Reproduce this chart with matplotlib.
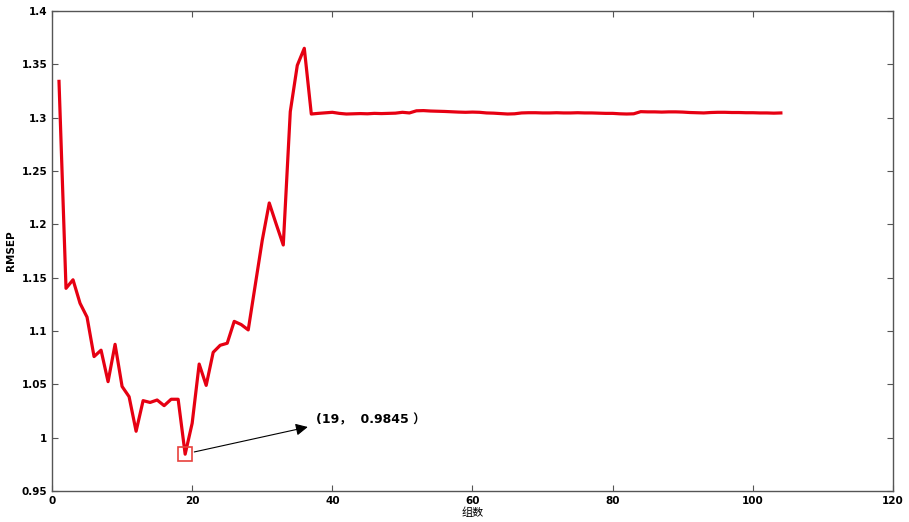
import matplotlib.pyplot as plt
import numpy as np
from matplotlib.ticker import FuncFormatter

plt.rcParams["font.family"] = ["DejaVu Sans", "Noto Sans CJK SC"]

# RMSEP per number of groups
groups = np.arange(1, 105)
rmsep_head = [
    1.334, 1.140, 1.148, 1.126, 1.113, 1.076, 1.082, 1.0525, 1.0875, 1.048,
    1.0384, 1.006, 1.0347, 1.033, 1.0353, 1.030, 1.036, 1.036, 0.9845, 1.0135,
    1.069, 1.049, 1.080, 1.0866, 1.0885, 1.109, 1.106, 1.101, 1.143, 1.185,
    1.220, 1.200, 1.1806, 1.3056, 1.349, 1.365,
]
rmsep_tail = [
    1.3034, 1.3040, 1.3045, 1.3050, 1.3040, 1.3034, 1.3036, 1.3038, 1.3036, 1.3040,
    1.3038, 1.3040, 1.3042, 1.3050, 1.3044, 1.3064, 1.3066, 1.3062, 1.3060, 1.3058,
    1.3055, 1.3052, 1.3050, 1.3052, 1.3050, 1.3044, 1.3042, 1.3038, 1.3034, 1.3036,
    1.3044, 1.3046, 1.3046, 1.3044, 1.3044, 1.3046, 1.3044, 1.3044, 1.3046, 1.3044,
    1.3044, 1.3042, 1.3040, 1.3040, 1.3036, 1.3034, 1.3036, 1.3056, 1.3054, 1.3054,
    1.3052, 1.3054, 1.3054, 1.3052, 1.3048, 1.3046, 1.3044, 1.3048, 1.3050, 1.3050,
    1.3048, 1.3048, 1.3046, 1.3046, 1.3044, 1.3044, 1.3042, 1.3044,
]
rmsep = np.array(rmsep_head + rmsep_tail)

best_x, best_y = 19, 0.9845
best_label = "(19，  0.9845 ）"

fig = plt.figure(figsize=(9.09, 5.22), dpi=100)
ax = fig.add_axes([0.0572, 0.0594, 0.9252, 0.9196])

ax.plot(groups, rmsep, color="#e60012", lw=2.3)
ax.plot(best_x, best_y, marker="s", ms=9.5, mfc="none", mec="#e8413c", mew=1.2)

# arrow from the minimum to its label
ax.annotate("", xy=(36.5, 1.010), xytext=(20.3, 0.9866),
            arrowprops=dict(arrowstyle="-|>", color="black", lw=0.8,
                            mutation_scale=18, shrinkA=0, shrinkB=0))
ax.text(37.6, 1.0166, best_label, fontsize=9, fontweight="bold", va="center")

ax.set_xlim(0, 120)
ax.set_ylim(0.95, 1.4)
ax.set_xticks(np.arange(0, 121, 20))
ax.set_yticks(np.arange(0.95, 1.401, 0.05))
ax.yaxis.set_major_formatter(FuncFormatter(lambda v, p: f"{v:g}"))

ax.tick_params(direction="in", top=True, right=True, length=4, width=0.8,
               color="#555555", labelsize=7.5)
for lab in ax.get_xticklabels() + ax.get_yticklabels():
    lab.set_fontweight("bold")
for sp in ax.spines.values():
    sp.set_color("#555555")
    sp.set_linewidth(1.0)

ax.set_ylabel("RMSEP", fontsize=7.5, fontweight="bold", labelpad=4)
ax.set_xlabel("组数", fontsize=8, labelpad=1)

fig.savefig("out.png", dpi=100)
